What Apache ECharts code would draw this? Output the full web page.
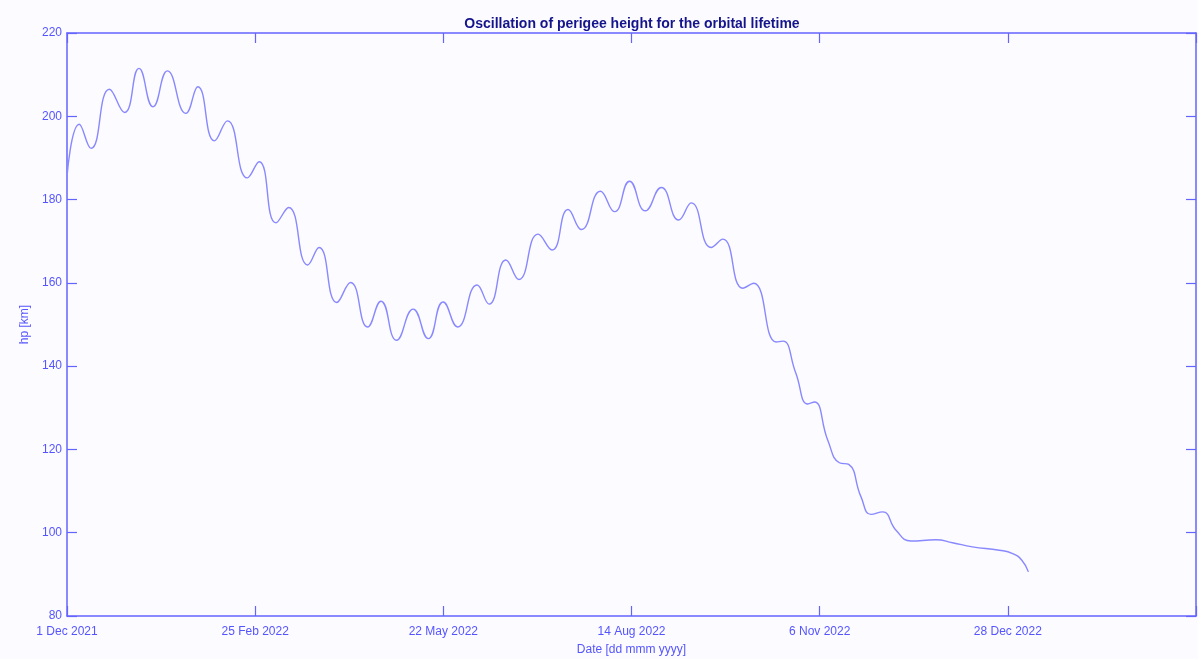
<!DOCTYPE html>
<html>
<head>
<meta charset="utf-8">
<title>Oscillation of perigee height for the orbital lifetime</title>
<script src="https://cdn.jsdelivr.net/npm/echarts@6/dist/echarts.min.js"></script>
<style>
  html, body { margin: 0; padding: 0; background: #fcfbff; }
  #chart { width: 1198px; height: 659px; }
</style>
</head>
<body>
<div id="chart"></div>
<script>
// Days elapsed since 1 Dec 2021 (turning points of the perigee oscillation)
const days = [
  0, 5.6, 11.0, 19.4, 26.3, 32.9, 39.3, 45.9, 54.3, 59.8,
  67.4, 73.3, 82.4, 87.8, 95.5, 101.3, 110.0, 115.2, 123.3, 129.6,
  137.4, 143.5, 150.6, 158.2, 165.1, 171.9, 178.5, 187.4, 192.9, 200.6,
  206.5, 215.3, 221.7, 229.0, 235.1, 243.8, 250.3, 257.1, 264.3, 271.6,
  279.6, 285.3, 294.4, 299.7, 308.9, 313.8, 324.1, 327.2, 333.0,
  338.6, 341.6, 347.7, 353.0, 357.3, 362.9, 367.5, 372.8, 378.9, 385.7,
  397.1, 404.7, 413.8, 426.1, 432.2, 436.4, 439.4
];

// Perigee height [km]
const hp = [
  185.5, 198.1, 192.3, 206.5, 200.9, 211.5, 202.3, 210.9, 200.7, 207.1,
  194.1, 198.9, 185.2, 189.1, 174.4, 178.1, 164.3, 168.5, 155.3, 160.1,
  149.4, 155.6, 146.2, 153.7, 146.6, 155.4, 149.4, 159.5, 154.9, 165.5,
  160.8, 171.7, 167.9, 177.6, 172.8, 182.0, 177.1, 184.4, 177.3, 182.9,
  175.1, 179.2, 168.5, 170.5, 158.7, 159.9, 145.8, 146.0, 138.5,
  130.9, 131.4, 122.2, 116.8, 116.4, 108.6, 104.4, 105.0, 100.6, 98.0,
  98.3, 97.6, 96.6, 95.8, 95.0, 93.4, 90.6
];

// Date tick labels, one per 86-day step
const tickLabels = ['1 Dec 2021', '25 Feb 2022', '22 May 2022', '14 Aug 2022', '6 Nov 2022', '28 Dec 2022', ''];
const tickStep = 86;

const axisBlue = '#6464ff';
const lineBlue = '#8888ff';
const labelFont = { color: '#5555ff', fontFamily: 'Liberation Sans, Arial, sans-serif', fontSize: 12 };

const points = days.map((d, i) => [d, hp[i]]);

const xBase = {
  type: 'value', min: 0, max: tickStep * (tickLabels.length - 1), interval: tickStep,
  axisLine: { show: true, onZero: false, lineStyle: { color: axisBlue, width: 1.5 } },
  axisTick: { show: true, inside: true, length: 10, lineStyle: { color: axisBlue, width: 1.2 } },
  splitLine: { show: false }
};
const yBase = {
  type: 'value', min: 80, max: 220, interval: 20,
  axisLine: { show: true, onZero: false, lineStyle: { color: axisBlue, width: 1.5 } },
  axisTick: { show: true, inside: true, length: 10, lineStyle: { color: axisBlue, width: 1.2 } },
  splitLine: { show: false }
};

const chart = echarts.init(document.getElementById('chart'), null, { renderer: 'canvas' });
chart.setOption({
  backgroundColor: '#fcfbff',
  animation: false,
  title: {
    text: 'Oscillation of perigee height for the orbital lifetime',
    left: 627, top: 12, textAlign: 'center',
    textStyle: { color: '#14148c', fontFamily: 'Liberation Sans, Arial, sans-serif', fontSize: 14, fontWeight: 'bold' }
  },
  grid: { left: 67, right: 2, top: 33, bottom: 43, containLabel: false, outerBoundsMode: 'none' },
  xAxis: [
    Object.assign({}, xBase, {
      position: 'bottom',
      name: 'Date [dd mmm yyyy]', nameLocation: 'middle', nameGap: 28,
      nameTextStyle: labelFont,
      axisLabel: Object.assign({}, labelFont, {
        margin: 10,
        formatter: v => tickLabels[Math.round(v / tickStep)] || ''
      })
    }),
    Object.assign({}, xBase, { position: 'top', axisLabel: { show: false } })
  ],
  yAxis: [
    Object.assign({}, yBase, {
      position: 'left',
      name: 'hp [km]', nameLocation: 'middle', nameGap: 32, nameRotate: 90,
      nameTextStyle: labelFont,
      axisLabel: Object.assign({}, labelFont, { margin: 5 })
    }),
    Object.assign({}, yBase, { position: 'right', axisLabel: { show: false } })
  ],
  series: [{
    type: 'line',
    data: points,
    xAxisIndex: 0, yAxisIndex: 0,
    smooth: 0.5,
    showSymbol: false,
    lineStyle: { color: lineBlue, width: 1.4 }
  }]
});
</script>
</body>
</html>
